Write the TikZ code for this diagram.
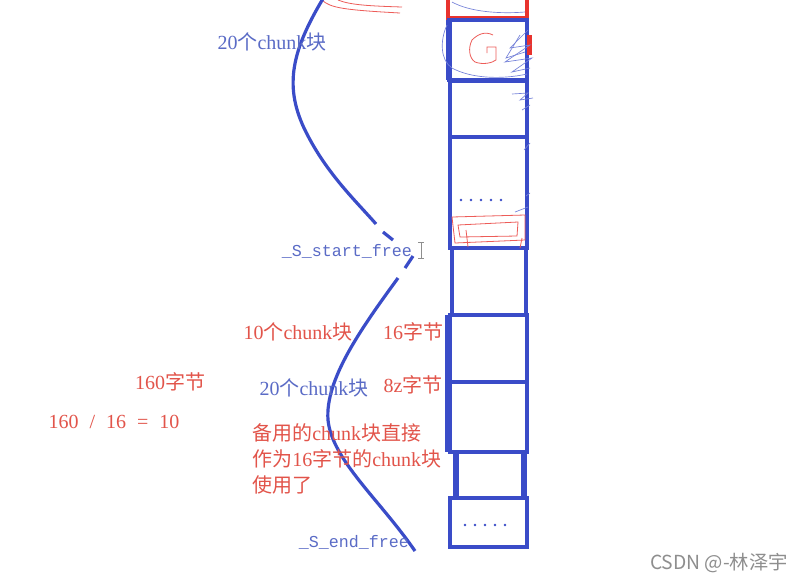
\documentclass[tikz,border=0pt]{standalone}
\usepackage{fontspec}
\setmainfont{Liberation Serif}
\setmonofont{Liberation Mono}
\newfontfamily\cjk{Noto Sans CJK SC}
\definecolor{memblue}{HTML}{3A4CC8}
\definecolor{txtblue}{HTML}{5A6BC6}
\definecolor{txtred}{HTML}{E2544A}
\definecolor{inkred}{HTML}{E8332E}
\definecolor{wmgray}{HTML}{8E8E8E}
\tikzset{
  mem/.style={draw=memblue, line width=3pt},
  memthick/.style={draw=memblue, line width=5pt},
  curve/.style={draw=memblue, line width=2.4pt},
  scrib/.style={draw=memblue!70, line width=0.5pt},
  rscrib/.style={draw=inkred!80, line width=0.6pt},
  bluetxt/.style={text=txtblue, font=\fontsize{15}{17}\selectfont, inner sep=0pt},
  redtxt/.style={text=txtred, font=\fontsize{15}{17}\selectfont, inner sep=0pt},
  monotxt/.style={text=txtblue, font=\ttfamily\fontsize{12.5}{15}\selectfont, inner sep=0pt},
  dot/.style={fill=memblue, circle, inner sep=0.7pt}
}
\begin{document}
\begin{tikzpicture}[x=0.75pt,y=-0.75pt]
\useasboundingbox (0,0) rectangle (809,583);
\fill[white] (0,0) rectangle (809,583);

% memory column
\draw[draw=inkred, line width=3pt] (448,-10) rectangle (527,18);
\draw[mem] (449,20) rectangle (527,80);
\draw[memthick] (449,20) -- (449,80);
\draw[mem] (450,81) rectangle (527,137);
\draw[mem] (450,137) rectangle (527,248);
\draw[mem] (452,248) rectangle (526,315);
\draw[mem] (450,315) rectangle (527,382);
\draw[memthick] (448,315) -- (448,452);
\draw[mem] (450,382) rectangle (527,452);
\draw[mem] (455,452) rectangle (525,498);
\draw[memthick] (456,452) -- (456,498);
\draw[memthick] (524,452) -- (524,498);
\draw[mem] (450,498) rectangle (527,547);

% dots
\foreach \i in {0,...,4} {
  \node[dot] (dtop\i) at (461+10*\i,200) {};
  \node[dot] (dbot\i) at (465+10*\i,525) {};
}

% red scribbles
\draw[rscrib] (322,0) .. controls (330,8) and (345,10) .. (400,13);
\draw[rscrib] (338,0) .. controls (350,5) and (370,6) .. (402,7);
\draw[rscrib] (493,35) .. controls (485,31) and (478,34) .. (472,40) .. controls (468,48) and (469,58) .. (475,62) .. controls (483,65) and (492,63) .. (496,60) -- (496,47) -- (487,47) -- (487,53);
\fill[inkred] (527,35) rectangle (532,55);
\draw[rscrib] (452,217) -- (525,215) -- (525,240) -- (455,243) -- cycle;
\draw[rscrib] (458,225) -- (518,222) -- (517,236) -- (460,237) -- cycle;
\draw[rscrib] (466,230) -- (468,247);
\draw[rscrib] (522,238) -- (520,248);

% blue scribbles
\draw[scrib] (452,2) .. controls (470,12) and (500,14) .. (525,12);
\draw[scrib] (447,25) .. controls (440,40) and (440,60) .. (452,68) .. controls (470,78) and (500,80) .. (527,74);
\draw[scrib] (528,30) -- (510,48) -- (530,45) -- (505,62) -- (532,58) -- (512,72) -- (530,68);
\draw[scrib] (520,35) -- (506,58) -- (525,52);
\draw[scrib] (512,94) -- (528,93) -- (520,100) -- (533,98);
\draw[scrib] (522,110) -- (530,105);
\draw[scrib] (524,150) -- (530,143);
\draw[scrib] (515,212) -- (528,207);
\draw[scrib] (526,196) -- (530,193);

% curves
\draw[curve] (324,-3) .. controls (292,50) and (284,85) .. (304,128) .. controls (325,172) and (355,200) .. (376,224);
\draw[curve] (383,232) -- (393,240);
\draw[curve] (405,268) -- (413,256);
\draw[curve] (398,278) .. controls (360,330) and (325,380) .. (328,420) .. controls (332,460) and (380,500) .. (415,551);

% labels
\node[bluetxt] (l20a) at (272,42) {20{\cjk 个}chunk{\cjk 块}};
\node[monotxt] (sstart) at (347,251) {\_S\_start\_free};
\draw[wmgray, line width=0.6pt] (421,242) -- (421,258) (418,242) -- (424,242) (418,258) -- (424,258);
\node[redtxt] (l10) at (298,332) {10{\cjk 个}chunk{\cjk 块}};
\node[redtxt] (l16) at (413,332) {16{\cjk 字节}};
\node[redtxt] (l160) at (170,382) {160{\cjk 字节}};
\node[bluetxt] (l20b) at (314,388) {20{\cjk 个}chunk{\cjk 块}};
\node[redtxt] (l8) at (413,385) {8z{\cjk 字节}};
\node[redtxt] (ldiv) at (114,422) {160\hspace{0.55em}/\hspace{0.55em}16\hspace{0.55em}=\hspace{0.55em}10};
\node[redtxt, anchor=north west, align=left, font=\fontsize{15}{19.5}\selectfont] (lnote) at (252,423)
  {{\cjk 备用的}chunk{\cjk 块直接}\\{\cjk 作为}16{\cjk 字节的}chunk{\cjk 块}\\{\cjk 使用了}};
\node[monotxt] (send) at (354,542) {\_S\_end\_free};
\node[text=wmgray, font=\cjk\fontsize{14.5}{16}\selectfont, inner sep=0pt] (wm) at (719,563) {CSDN @-林泽宇};
\end{tikzpicture}
\end{document}
